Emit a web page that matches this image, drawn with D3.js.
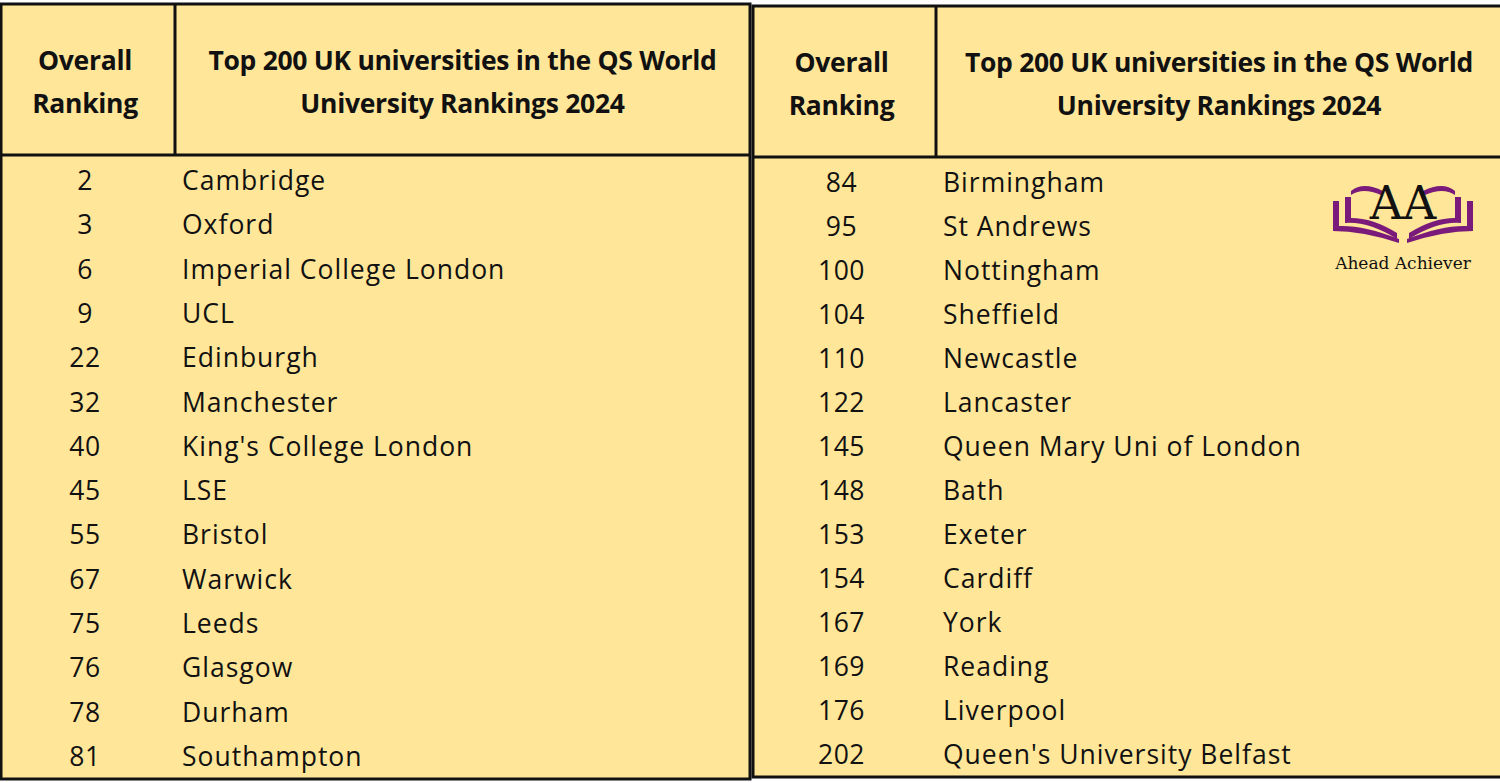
<!DOCTYPE html>
<html><head><meta charset="utf-8">
<script src="https://cdn.jsdelivr.net/npm/d3@7"></script>
<style>body{margin:0;background:#fff;}</style>
</head><body>
<script>
// data
const leftRanks = [2, 3, 6, 9, 22, 32, 40, 45, 55, 67, 75, 76, 78, 81];
const leftNames = ['Cambridge', 'Oxford', 'Imperial College London', 'UCL', 'Edinburgh', 'Manchester',
  "King's College London", 'LSE', 'Bristol', 'Warwick', 'Leeds', 'Glasgow', 'Durham', 'Southampton'];
const rightRanks = [84, 95, 100, 104, 110, 122, 145, 148, 153, 154, 167, 169, 176, 202];
const rightNames = ['Birmingham', 'St Andrews', 'Nottingham', 'Sheffield', 'Newcastle', 'Lancaster',
  'Queen Mary Uni of London', 'Bath', 'Exeter', 'Cardiff', 'York', 'Reading', 'Liverpool', "Queen's University Belfast"];
const headers = ['Overall|Ranking', 'Top 200 UK universities in the QS World|University Rankings 2024'];

const W = 1500, H = 783, bg = '#ffe699', font = '"Open Sans", sans-serif';
const svg = d3.select('body').append('svg').attr('width', W).attr('height', H);
svg.append('rect').attr('width', W).attr('height', H).attr('fill', '#fff');

function drawTable(cfg, ranks, names) {
  const g = svg.append('g');
  g.append('rect').attr('x', cfg.x0).attr('y', cfg.top).attr('width', cfg.x1 - cfg.x0).attr('height', cfg.bottom - cfg.top)
    .attr('fill', bg).attr('stroke', '#111').attr('stroke-width', 3);
  g.append('line').attr('x1', cfg.x0).attr('x2', cfg.x1).attr('y1', cfg.head).attr('y2', cfg.head)
    .attr('stroke', '#111').attr('stroke-width', 3);
  g.append('line').attr('x1', cfg.sep).attr('x2', cfg.sep).attr('y1', cfg.top).attr('y2', cfg.head)
    .attr('stroke', '#111').attr('stroke-width', 3);

  const cols = [(cfg.x0 + cfg.sep) / 2 - 3, (cfg.sep + cfg.x1) / 2];
  headers.forEach((h, i) => {
    const t = g.append('text').attr('x', cols[i]).attr('text-anchor', 'middle')
      .attr('font-family', font).attr('font-weight', 'bold').attr('font-size', 26.5).attr('fill', '#111')
      .attr('letter-spacing', -0.3);
    h.split('|').forEach((s, j) => t.append('tspan').attr('x', cols[i]).attr('y', cfg.top + 66 + j * 43).text(s));
  });

  const y = d3.scaleBand().domain(d3.range(ranks.length)).range([cfg.head + 3, cfg.bottom - 1]);
  const rows = g.selectAll('g.row').data(ranks.map((r, i) => ({r, n: names[i], i}))).join('g').attr('class', 'row');
  rows.append('text').attr('x', cols[0]).attr('y', d => y(d.i) + y.bandwidth() / 2 + 10)
    .attr('text-anchor', 'middle').attr('font-family', font).attr('font-size', 26.5).attr('fill', '#111')
    .attr('letter-spacing', 0.5).text(d => d.r);
  rows.append('text').attr('x', cfg.sep + 7).attr('y', d => y(d.i) + y.bandwidth() / 2 + 10)
    .attr('font-family', font).attr('font-size', 26.5).attr('fill', '#111')
    .attr('letter-spacing', 1).text(d => d.n);
}

drawTable({x0: 1, x1: 750, top: 4, head: 155, bottom: 779, sep: 175}, leftRanks, leftNames);
drawTable({x0: 753, x1: 1502, top: 6, head: 157, bottom: 777, sep: 936}, rightRanks, rightNames);

// logo
const logo = svg.append('g').attr('transform', 'translate(1403,215)');
const purple = '#7a1a7a';
[-1, 1].forEach(s => {
  logo.append('path').attr('fill', purple)
    .attr('d', `M${s*6},24 Q${s*35},6 ${s*58},8 L${s*58},-18 L${s*52},-18 L${s*52},3 Q${s*30},3 ${s*6},18 Z`);
  logo.append('path').attr('fill', purple)
    .attr('d', `M${s*4},28 Q${s*40},16 ${s*70},16 L${s*70},-14 L${s*64},-14 L${s*64},11 Q${s*40},10 ${s*4},24 Z`);
  logo.append('path').attr('fill', purple)
    .attr('d', `M${s*20},-24 Q${s*40},-34 ${s*52},-24 L${s*52},-20 Q${s*40},-28 ${s*22},-20 Z`);
});
logo.append('text').attr('x', 0).attr('y', 4).attr('text-anchor', 'middle')
  .attr('font-family', '"DejaVu Serif", serif').attr('font-size', 46).attr('fill', '#111').text('AA');
logo.append('text').attr('x', 0).attr('y', 54).attr('text-anchor', 'middle')
  .attr('font-family', '"DejaVu Serif", serif').attr('font-size', 17).attr('fill', '#111').text('Ahead Achiever');
</script>
</body></html>
